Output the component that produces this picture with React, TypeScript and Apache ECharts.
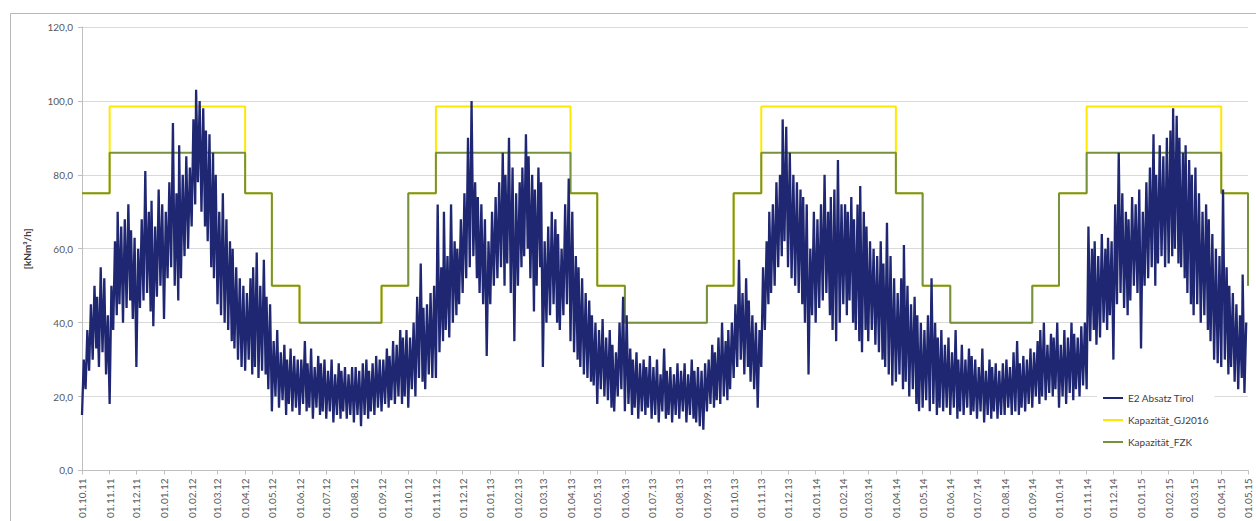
import React, { useEffect, useRef } from "react";
import * as echarts from "echarts";

const START = Date.UTC(2011, 9, 1);
const END = Date.UTC(2015, 4, 1);
const DAY = 86400000;

const seriesNames = ["E2 Absatz Tirol", "Kapazität_GJ2016", "Kapazität_FZK"];
const yAxisTitle = "[kNm³/h]";

// capacity values at each month start (Oct 2011 ... May 2015)
const greenSteps = [
  75, 86, 86, 86, 86, 86, 75, 50, 40, 40, 40, 50,
  75, 86, 86, 86, 86, 86, 75, 50, 40, 40, 40, 50,
  75, 86, 86, 86, 86, 86, 75, 50, 40, 40, 40, 50,
  75, 86, 86, 86, 86, 86, 75, 50,
];
const yellowSteps = [
  75, 98.5, 98.5, 98.5, 98.5, 98.5, 75, 50, 40, 40, 40, 50,
  75, 98.5, 98.5, 98.5, 98.5, 98.5, 75, 50, 40, 40, 40, 50,
  75, 98.5, 98.5, 98.5, 98.5, 98.5, 75, 50, 40, 40, 40, 50,
  75, 98.5, 98.5, 98.5, 98.5, 98.5, 75, 50,
];

// E2 Absatz Tirol, per month, readings roughly every two days (Oct 2011 - Sep 2012)
const blueFY12 = [
  [15, 30, 22, 38, 27, 45, 30, 50, 33, 47, 28, 55, 32, 52, 26, 42],
  [18, 50, 38, 62, 42, 70, 45, 66, 40, 68, 44, 72, 46, 65, 41, 63],
  [28, 60, 44, 68, 46, 81, 48, 70, 43, 73, 39, 66, 47, 76, 50, 72],
  [41, 70, 52, 78, 55, 94, 50, 75, 46, 88, 52, 80, 58, 85, 60, 82],
  [66, 95, 72, 103, 78, 100, 70, 98, 66, 92, 62, 91, 55, 86, 52, 80],
  [45, 70, 42, 75, 40, 68, 38, 62, 35, 60, 33, 55, 30, 52, 28, 50],
  [27, 48, 30, 52, 26, 55, 28, 59, 25, 50, 27, 57, 26, 47, 22, 45],
  [16, 35, 20, 38, 17, 32, 19, 34, 15, 30, 18, 33, 16, 31, 17, 30],
  [15, 30, 18, 35, 16, 29, 17, 33, 14, 28, 17, 31, 15, 29, 16, 30],
  [14, 27, 16, 30, 13, 26, 15, 29, 14, 27, 16, 28, 14, 26, 15, 28],
  [13, 28, 15, 27, 12, 29, 15, 30, 14, 27, 16, 29, 15, 31, 17, 30],
  [16, 30, 18, 33, 17, 31, 19, 35, 18, 34, 20, 38, 18, 36, 20, 38],
];
// Oct 2012 - Sep 2013
const blueFY13 = [
  [17, 36, 22, 40, 20, 47, 25, 56, 24, 44, 22, 45, 26, 48, 25, 50],
  [25, 72, 32, 55, 35, 70, 38, 58, 36, 72, 40, 62, 42, 60, 45, 68],
  [48, 75, 52, 90, 55, 100, 58, 78, 52, 74, 48, 72, 45, 68, 31, 62],
  [45, 70, 50, 74, 52, 78, 55, 86, 50, 80, 56, 90, 48, 82, 35, 75],
  [50, 78, 55, 82, 58, 91, 60, 85, 52, 80, 43, 76, 50, 82, 55, 78],
  [28, 62, 40, 66, 42, 70, 45, 68, 40, 64, 38, 60, 42, 72, 45, 79],
  [35, 70, 32, 58, 30, 55, 28, 52, 26, 48, 25, 46, 24, 42, 23, 40],
  [18, 38, 22, 41, 20, 36, 19, 38, 17, 34, 16, 32, 20, 40, 22, 47],
  [16, 42, 18, 33, 15, 30, 17, 32, 14, 29, 16, 30, 15, 28, 17, 31],
  [14, 28, 15, 30, 13, 26, 16, 33, 14, 27, 15, 28, 13, 26, 15, 29],
  [14, 27, 16, 29, 13, 26, 15, 30, 14, 27, 13, 28, 12, 27, 11, 29],
  [16, 30, 18, 34, 17, 32, 19, 36, 18, 40, 20, 35, 19, 38, 22, 40],
];
// Oct 2013 - Sep 2014
const blueFY14 = [
  [25, 45, 28, 57, 30, 48, 26, 52, 28, 46, 24, 42, 22, 40, 17, 38],
  [28, 55, 38, 62, 45, 70, 48, 72, 50, 78, 55, 80, 58, 95, 62, 93],
  [55, 86, 52, 80, 50, 78, 48, 76, 45, 74, 40, 72, 26, 60, 42, 70],
  [40, 68, 44, 72, 46, 80, 48, 70, 42, 74, 38, 76, 35, 84, 40, 72],
  [45, 72, 42, 70, 46, 74, 40, 68, 38, 72, 35, 77, 32, 70, 38, 66],
  [35, 62, 38, 60, 34, 58, 32, 62, 30, 56, 28, 67, 26, 58, 23, 52],
  [24, 48, 26, 52, 22, 61, 24, 50, 20, 45, 22, 47, 18, 42, 16, 40],
  [17, 38, 19, 42, 16, 52, 18, 40, 15, 36, 17, 38, 16, 34, 17, 36],
  [15, 32, 17, 38, 14, 30, 16, 34, 15, 30, 17, 33, 15, 31, 16, 30],
  [14, 28, 16, 33, 13, 27, 15, 30, 14, 28, 16, 29, 14, 27, 15, 29],
  [15, 30, 17, 28, 15, 32, 16, 35, 15, 29, 17, 31, 16, 30, 18, 33],
  [17, 32, 20, 35, 18, 38, 20, 40, 19, 34, 21, 37, 20, 36, 22, 40],
];
// Oct 2014 - Apr 2015
const blueFY15 = [
  [17, 34, 20, 38, 18, 36, 21, 40, 19, 37, 22, 36, 20, 39, 23, 40],
  [22, 66, 35, 60, 38, 62, 34, 58, 36, 64, 40, 60, 38, 63, 42, 62],
  [30, 72, 45, 86, 48, 75, 44, 70, 42, 68, 46, 74, 50, 72, 48, 76],
  [33, 70, 50, 78, 52, 82, 55, 91, 50, 80, 56, 88, 58, 85, 55, 90],
  [56, 92, 58, 98, 60, 96, 56, 90, 55, 86, 52, 88, 48, 84, 45, 80],
  [42, 82, 45, 75, 40, 70, 42, 72, 38, 68, 35, 64, 30, 60, 29, 58],
  [28, 76, 30, 55, 26, 50, 28, 48, 24, 45, 22, 42, 25, 53, 21, 40],
];

const pad = (n: number) => (n < 10 ? "0" + n : "" + n);

function buildCategories() {
  const cats: string[] = [];
  const monthStarts: number[] = [];
  for (let t = START, i = 0; t <= END; t += DAY, i++) {
    const d = new Date(t);
    const s = pad(d.getUTCDate()) + "." + pad(d.getUTCMonth() + 1) + "." + pad(d.getUTCFullYear() % 100);
    if (d.getUTCDate() === 1) monthStarts.push(i);
    cats.push(s);
  }
  return { cats, monthStarts };
}

export default function App() {
  const ref = useRef<HTMLDivElement>(null);
  useEffect(() => {
    if (!ref.current) return;
    const chart = echarts.init(ref.current, undefined, { renderer: "svg" });
    const { cats, monthStarts } = buildCategories();

    const months = [...blueFY12, ...blueFY13, ...blueFY14, ...blueFY15];
    const blueData: [number, number][] = [];
    months.forEach((vals, m) => {
      const s = monthStarts[m];
      const len = monthStarts[m + 1] - s;
      vals.forEach((v, k) => {
        blueData.push([s + Math.round((k * len) / vals.length), v]);
      });
    });

    const greenData = greenSteps.map((v, i) => [monthStarts[i], v]);
    const yellowData = yellowSteps.map((v, i) => [monthStarts[i], v]);

    const isMonthStart = (_i: number, val: string) => val.startsWith("01.");
    const font = "Lato, 'Open Sans', sans-serif";
    const navy = "#1F2773";

    chart.setOption({
      animation: false,
      backgroundColor: "#ffffff",
      textStyle: { fontFamily: font },
      graphic: [
        {
          type: "rect",
          z: -10,
          shape: { x: 10.5, y: 13.5, width: 1260, height: 520 },
          style: { fill: "none", stroke: "#B8B8B8", lineWidth: 1 },
        },
      ],
      grid: { left: 82, right: 8, top: 27, bottom: 48 },
      legend: {
        data: seriesNames,
        orient: "vertical",
        left: 1097,
        top: 388,
        padding: [4, 6],
        itemGap: 10,
        itemWidth: 20,
        itemHeight: 2,
        icon: "rect",
        backgroundColor: "#ffffff",
        textStyle: { fontSize: 10, color: "#404040", fontFamily: font, lineHeight: 12 },
      },
      xAxis: {
        type: "category",
        data: cats,
        boundaryGap: false,
        axisLine: { lineStyle: { color: "#BFBFBF", width: 1 } },
        axisTick: { interval: isMonthStart, length: 4, lineStyle: { color: "#BFBFBF" } },
        axisLabel: {
          interval: isMonthStart,
          rotate: 90,
          margin: 8,
          fontSize: 10,
          color: "#595959",
          fontFamily: font,
        },
        splitLine: { show: false },
      },
      yAxis: {
        type: "value",
        min: 0,
        max: 120,
        interval: 20,
        name: yAxisTitle,
        nameLocation: "middle",
        nameRotate: 90,
        nameGap: 50,
        nameTextStyle: { fontSize: 10, fontWeight: "bold", color: "#404040", fontFamily: font },
        axisLine: { show: true, lineStyle: { color: "#BFBFBF" } },
        axisTick: { show: true, length: 4, lineStyle: { color: "#BFBFBF" } },
        axisLabel: {
          margin: 9,
          fontSize: 10,
          color: "#595959",
          fontFamily: font,
          formatter: (v: number) => v.toFixed(1).replace(".", ","),
        },
        splitLine: { lineStyle: { color: "#D9D9D9", width: 1 } },
      },
      series: [
        {
          name: seriesNames[1],
          type: "line",
          step: "end",
          data: yellowData,
          showSymbol: false,
          color: "#FFE800",
          lineStyle: { width: 2, color: "#FFE800" },
          z: 1,
        },
        {
          name: seriesNames[2],
          type: "line",
          step: "end",
          data: greenData,
          showSymbol: false,
          color: "#76923C",
          lineStyle: { width: 2, color: "#76923C" },
          z: 2,
        },
        {
          name: seriesNames[0],
          type: "line",
          data: blueData,
          showSymbol: false,
          color: navy,
          lineStyle: { width: 2.3, color: navy, join: "bevel" },
          z: 4,
        },
      ],
    });
    return () => chart.dispose();
  }, []);
  return (
    <div
      ref={ref}
      style={{ position: "absolute", left: 0, top: 0, width: 1256, height: 521 }}
    />
  );
}
